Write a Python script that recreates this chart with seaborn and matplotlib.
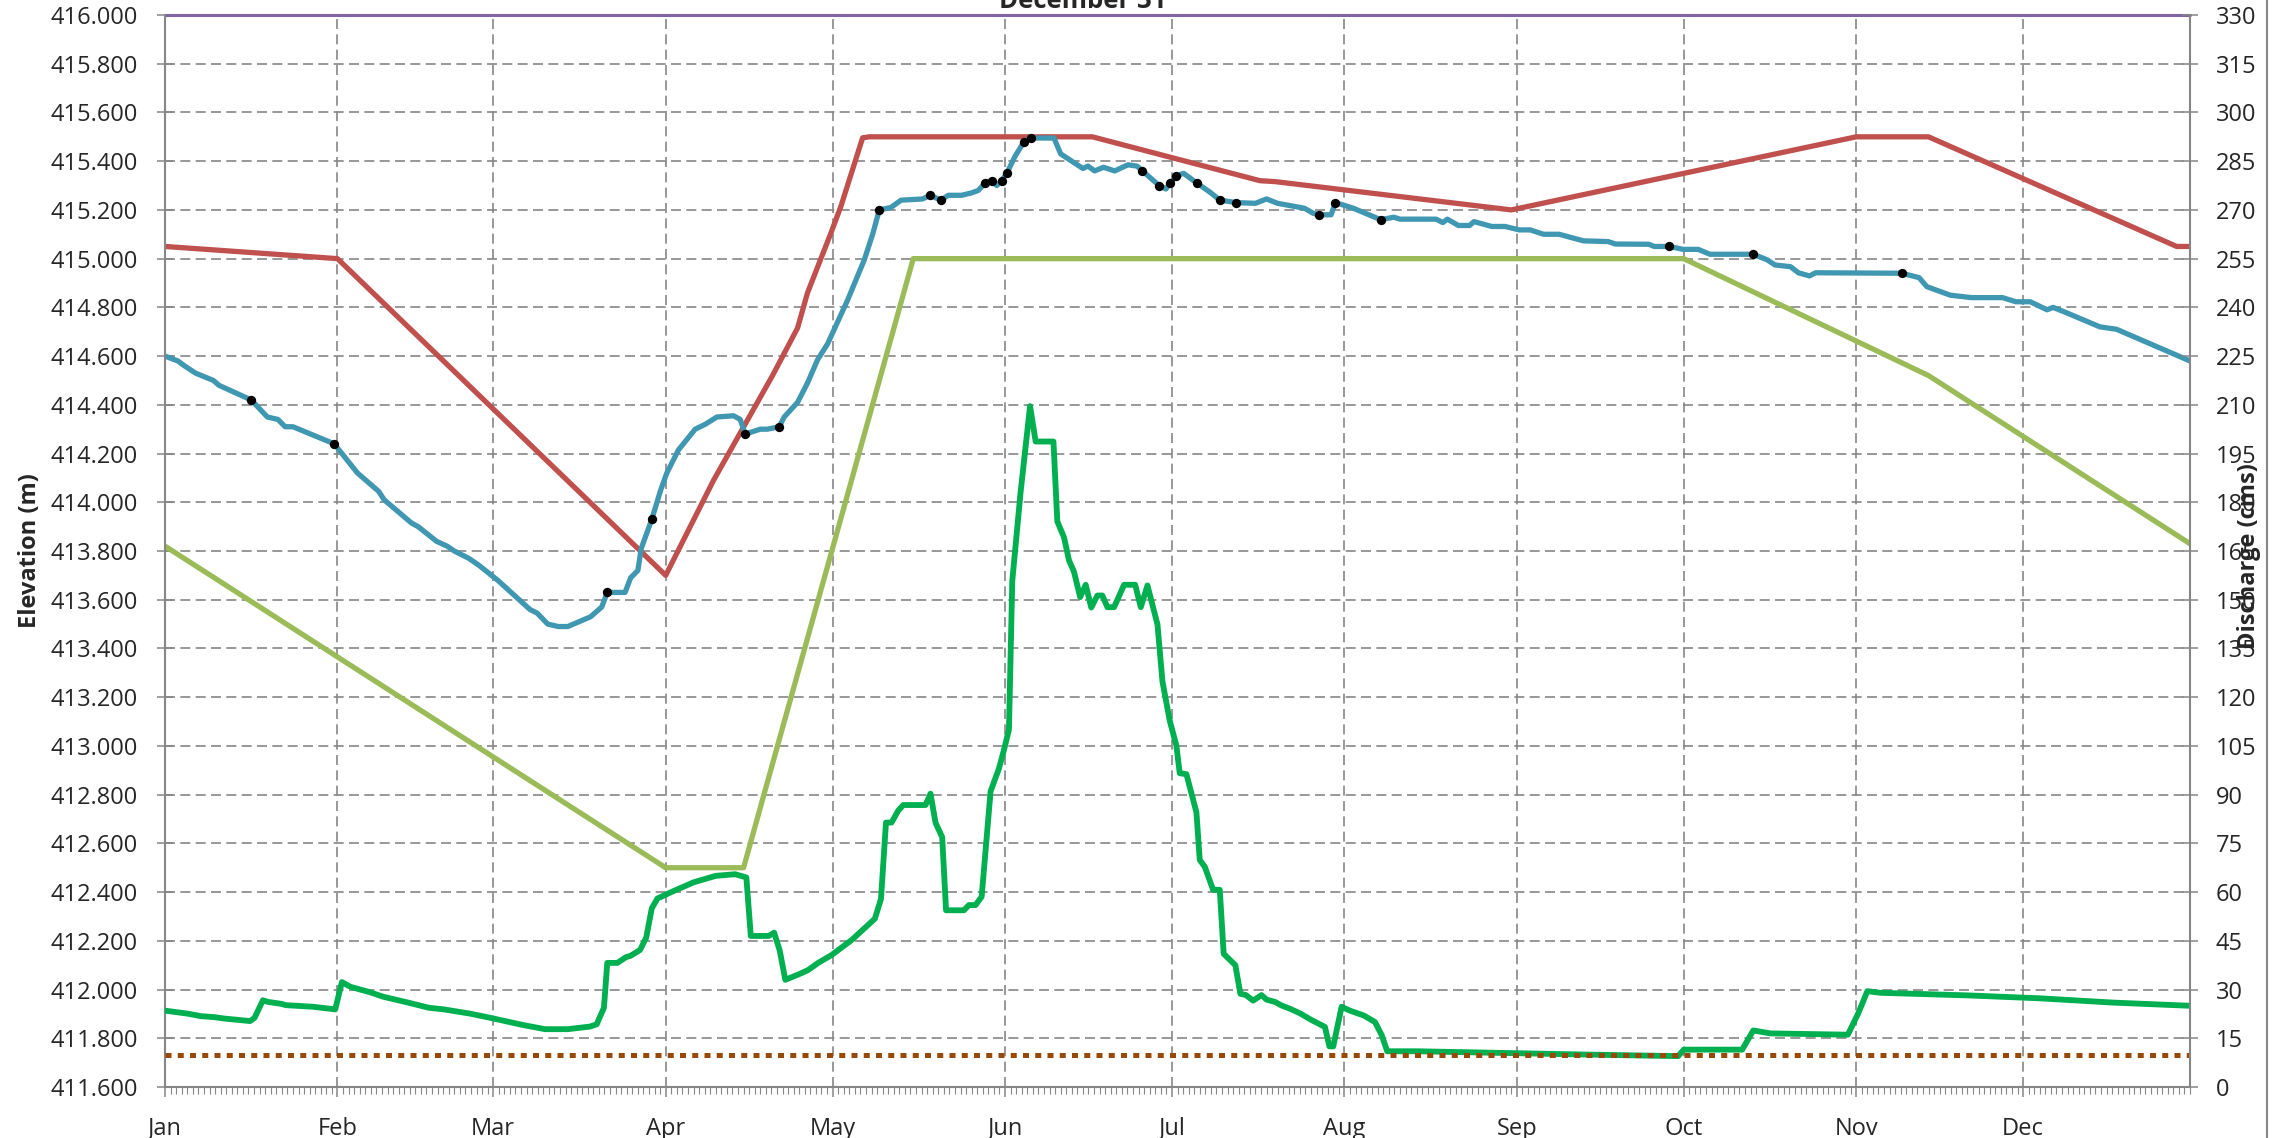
import numpy as np
import matplotlib
matplotlib.use("Agg")
import matplotlib.pyplot as plt
from matplotlib.ticker import FixedLocator, MultipleLocator, StrMethodFormatter
from matplotlib.lines import Line2D
import seaborn as sns

# ---- data (day of year, 0 = Jan 1) ----
month_starts = [0, 31, 59, 90, 120, 151, 181, 212, 243, 273, 304, 334]
month_labels = ['Jan', 'Feb', 'Mar', 'Apr', 'May', 'Jun',
                'Jul', 'Aug', 'Sep', 'Oct', 'Nov', 'Dec']

# top of conservation pool
top_days = [0, 364]
top_elev = [416.0, 416.0]

# upper rule curve
upper_days = [0, 31, 90, 98.6, 109.2, 113.7, 115.5, 119.7, 121.5, 125.4, 126.6,
              166.7, 196.8, 199.6, 242, 304, 317, 361.6, 364]
upper_elev = [415.05, 415.00, 413.70, 414.09, 414.52, 414.715, 414.86, 415.105,
              415.215, 415.496, 415.50, 415.50, 415.32, 415.316, 415.20, 415.50,
              415.50, 415.05, 415.05]

# lower rule curve
lower_days = [0, 90, 104, 134.5, 273, 317, 364]
lower_elev = [413.82, 412.50, 412.50, 415.00, 415.00, 414.52, 413.83]

# observed elevation
obs_days = [0, 2.3, 3.5, 5.5, 8.7, 9.7, 15.5, 18.4, 20.3, 21.6, 23, 30.4, 34.6,
            38.4, 39.4, 44.3, 45.5, 48.8, 50.7, 52, 54.6, 56.5, 59.8, 65.6, 66.9,
            68.8, 70.7, 72.4, 76.5, 78.5, 79.5, 81, 82.7, 83.7, 85, 85.6, 87.5,
            89.1, 90.2, 92.3, 95.3, 97.1, 99.2, 102.2, 103.4, 104.3, 107, 108.3,
            110.4, 111.3, 113.7, 115.5, 117.3, 119.1, 122.7, 125.7, 127.2, 128.4,
            130.5, 132.3, 136.2, 137.5, 139.5, 140.8, 143.2, 145, 146.2, 147.4,
            148.6, 149.5, 150.4, 151.3, 152.8, 154.4, 155.6, 159.8, 161, 163, 165,
            165.9, 167.1, 168.7, 170.7, 173.1, 174.7, 175.7, 178.7, 179.9, 180.7,
            181.8, 183.1, 185.5, 188, 189.6, 192.6, 196, 198, 200, 204.8, 206.4,
            207.5, 209.6, 210.4, 213.6, 218.5, 220.9, 222, 228.5, 229.7, 230.5,
            232.5, 234.5, 235.3, 238.5, 240.9, 243.4, 245.4, 247.8, 250.6, 252.2,
            255, 259.4, 260.7, 266.7, 267.7, 270.4, 272.9, 275.6, 277.7, 284.6,
            285.5, 288, 289.4, 292.2, 293.6, 295.6, 296.7, 312.2, 315.3, 316.7,
            319.2, 320.9, 324.7, 330.3, 332.7, 335.3, 338.3, 339.4, 342.1, 347.8,
            350.8, 364]
obs_elev = [414.60, 414.58, 414.56, 414.53, 414.50, 414.48, 414.42, 414.35, 414.34,
            414.31, 414.31, 414.24, 414.12, 414.045, 414.01, 413.915, 413.90,
            413.84, 413.82, 413.80, 413.77, 413.74, 413.68, 413.56, 413.545,
            413.50, 413.49, 413.49, 413.53, 413.57, 413.63, 413.63, 413.63,
            413.69, 413.72, 413.81, 413.93, 414.05, 414.12, 414.215, 414.30,
            414.32, 414.35, 414.355, 414.34, 414.28, 414.30, 414.30, 414.31,
            414.35, 414.41, 414.49, 414.585, 414.65, 414.83, 414.995, 415.10,
            415.20, 415.21, 415.24, 415.245, 415.26, 415.24, 415.26, 415.26,
            415.27, 415.28, 415.31, 415.32, 415.30, 415.32, 415.35, 415.42,
            415.48, 415.495, 415.495, 415.43, 415.40, 415.37, 415.38, 415.36,
            415.375, 415.36, 415.385, 415.38, 415.36, 415.30, 415.286, 415.31,
            415.34, 415.35, 415.31, 415.27, 415.24, 415.23, 415.227, 415.245,
            415.227, 415.207, 415.186, 415.18, 415.18, 415.23, 415.207, 415.16,
            415.17, 415.162, 415.162, 415.148, 415.162, 415.136, 415.136,
            415.152, 415.132, 415.132, 415.118, 415.118, 415.10, 415.10, 415.09,
            415.073, 415.07, 415.06, 415.059, 415.05, 415.05, 415.038, 415.038,
            415.018, 415.018, 415.018, 414.995, 414.974, 414.967, 414.942,
            414.929, 414.942, 414.94, 414.922, 414.885, 414.864, 414.85, 414.84,
            414.84, 414.823, 414.823, 414.79, 414.80, 414.775, 414.72, 414.71,
            414.58]

# measured points on the observed elevation line
dot_days = [15.5, 30.4, 79.5, 87.5, 104.3, 110.4, 128.4, 137.5, 139.5, 147.4, 148.6,
            150.4, 151.3, 154.4, 155.6, 175.7, 178.7, 180.7, 181.8, 185.5, 189.6,
            192.6, 207.5, 210.4, 218.5, 270.4, 285.5, 312.2]
dot_elev = [414.42, 414.24, 413.63, 413.93, 414.28, 414.31, 415.20, 415.26, 415.24,
            415.31, 415.32, 415.32, 415.35, 415.48, 415.495, 415.36, 415.30, 415.31,
            415.34, 415.31, 415.24, 415.23, 415.18, 415.23, 415.16, 415.05,
            415.018, 414.94]

# discharge (cms)
q_days = [0, 4, 6.5, 8.9, 10.5, 15.3, 16.1, 17.6, 18.5, 20.9, 21.7, 26.6, 30.6,
          31.8, 33.4, 36.8, 39.2, 43.9, 47.4, 50.1, 54.8, 59, 64.3, 68.3, 72.4,
          76.4, 77.6, 78.9, 79.5, 81.3, 82.9, 83.7, 85.4, 86.5, 87.5, 88.5, 91, 95,
          99, 102.5, 104.5, 105.3, 108.5, 109.5, 110.5, 111.5, 113.8, 115.6, 117.4,
          119.8, 123.4, 127.6, 128.7, 129.6, 130.6, 131.8, 132.7, 136.7, 137.6,
          138.5, 139.7, 140.4, 143.6, 144.5, 145.7, 146.8, 148.4, 149.9, 150.8,
          151.7, 152.3, 153.8, 155.5, 156.5, 159.7, 160.4, 161.6, 162.5, 163.4,
          164.5, 165.5, 166.5, 167.6, 168.5, 169.4, 170.6, 172.4, 174.4, 175.4,
          176.6, 178.4, 179.3, 180.6, 181.8, 182.4, 183.6, 185.4, 186, 186.9,
          188.4, 189.6, 190.3, 192.4, 193.3, 194.3, 195.6, 197.1, 198, 199.5,
          200.7, 202.2, 204, 206.1, 208.5, 209.3, 210, 211.5, 213, 215.5, 217.5,
          218.7, 219.7, 225, 240, 255, 272, 273, 283.5, 285.5, 288.6, 302.5,
          304.4, 306, 308.3, 324, 337, 350, 364]
q_vals = [23.5, 22.6, 21.8, 21.5, 21.1, 20.3, 21.3, 26.7, 26.2, 25.6, 25.2, 24.7,
          23.9, 32.3, 30.8, 29.2, 27.8, 25.9, 24.4, 23.9, 22.6, 21.1, 19.1, 17.8,
          17.8, 18.6, 19.3, 24.4, 38.2, 38.2, 40.0, 40.4, 42.2, 46, 55, 58, 60, 63,
          65, 65.5, 64.5, 46.5, 46.5, 47.5, 42, 33, 34.6, 36.0, 38.2, 40.6, 45.2,
          51.8, 57.9, 81.4, 81.4, 85.1, 86.8, 86.8, 90.3, 81.4, 76.9, 54.4, 54.4,
          56.0, 56.0, 58.6, 91.0, 98.0, 103.7, 110.0, 155.8, 183.2, 209.6, 198.7,
          198.7, 174.1, 169.2, 162.1, 158.6, 150.8, 154.6, 147.6, 151.3, 151.3,
          147.7, 147.7, 154.6, 154.6, 147.7, 154.4, 142.4, 124.8, 112.8, 105.1,
          96.6, 96.3, 84.6, 69.9, 67.8, 60.7, 60.7, 41.0, 37.5, 28.7, 28.3, 26.6,
          28.3, 26.9, 26.2, 25.1, 24.1, 22.7, 20.6, 18.5, 12.5, 12.5, 24.7, 23.5,
          22, 20, 16, 11, 11, 10.5, 10, 9.5, 11.5, 11.5, 17.4, 16.5, 16.1, 22.8,
          29.5, 29, 28.2, 27.3, 26, 25]

# minimum flow
minq_days = [0, 364]
minq_vals = [10, 10]

# ---- plot ----
sns.set_style("white")
plt.rcParams['font.family'] = ['Open Sans', 'DejaVu Sans']

W, H = 2285, 1138
fig = plt.figure(figsize=(W / 100, H / 100), dpi=100)
ax = fig.add_axes([165 / W, 51 / H, 2025 / W, 1072 / H])
ax2 = ax.twinx()

grey = '#868686'
lw_main = 3.8

sns.lineplot(x=top_days, y=top_elev, ax=ax, color='#8064A2', lw=2.2,
             estimator=None, sort=False)
ax.lines[-1].set_clip_on(False)
sns.lineplot(x=upper_days, y=upper_elev, ax=ax, color='#C0504D', lw=lw_main,
             estimator=None, sort=False)
sns.lineplot(x=lower_days, y=lower_elev, ax=ax, color='#9BBB59', lw=lw_main,
             estimator=None, sort=False)
sns.lineplot(x=obs_days, y=obs_elev, ax=ax, color='#4097B1', lw=lw_main,
             estimator=None, sort=False)
sns.scatterplot(x=dot_days, y=dot_elev, ax=ax, color='black', s=45,
                linewidth=0, zorder=5)

sns.lineplot(x=q_days, y=q_vals, ax=ax2, color='#00B050', lw=4.2,
             estimator=None, sort=False)
sns.lineplot(x=minq_days, y=minq_vals, ax=ax2, color='#984807', lw=3.6,
             ls=(0, (1.2, 1.25)), estimator=None, sort=False)

# axes limits / ticks
ax.set_xlim(0, 364)
ax.set_ylim(411.6, 416.0)
ax2.set_ylim(0, 330)
ax.yaxis.set_major_locator(FixedLocator(np.round(np.arange(411.6, 416.01, 0.2), 1)))
ax.yaxis.set_major_formatter(StrMethodFormatter('{x:.3f}'))
ax2.yaxis.set_major_locator(FixedLocator(list(range(0, 331, 15))))
ax.xaxis.set_major_locator(FixedLocator(month_starts))
ax.set_xticklabels(month_labels)
ax.xaxis.set_minor_locator(MultipleLocator(1))

ax.grid(True, which='major', axis='both', color=grey, lw=1.2, ls=(0, (6, 3.2)))
ax2.grid(False)

for s in ['top', 'right']:
    ax.spines[s].set_visible(False)
for s in ['top', 'left', 'bottom']:
    ax2.spines[s].set_visible(False)
for sp in [ax.spines['left'], ax.spines['bottom'], ax2.spines['right']]:
    sp.set_color(grey)
    sp.set_linewidth(1.5)

ax.tick_params(axis='y', which='major', direction='inout', length=11, width=1.1,
               color=grey, labelsize=17, pad=14, left=True)
ax2.tick_params(axis='y', which='major', direction='inout', length=11, width=1.1,
                color=grey, labelsize=17, pad=13, right=True)
ax.tick_params(axis='x', which='major', direction='out', length=7.5, width=1.1,
               color=grey, labelsize=17, pad=14, bottom=True)
ax.tick_params(axis='x', which='minor', direction='out', length=5, width=0.8,
               color=grey, bottom=True)

ax.set_ylabel('Elevation (m)', fontsize=17, fontweight='bold')
ax.yaxis.set_label_coords((42 - 165) / 2025, 0.5)
ax2.set_ylabel('Discharge (cms)', fontsize=17, fontweight='bold')
ax2.yaxis.set_label_coords((2237 - 165) / 2025, 0.495)

# title (top part falls outside the image, as in the original)
fig.text(1083 / W, 1 - 8 / H, 'December 31', ha='center', va='baseline',
         fontsize=18.5, fontweight='bold')

# chart-area border on the right
fig.add_artist(Line2D([2267 / W, 2267 / W], [0, 1], transform=fig.transFigure,
                      color=grey, lw=1.5))

fig.savefig('out.png', dpi=100)
